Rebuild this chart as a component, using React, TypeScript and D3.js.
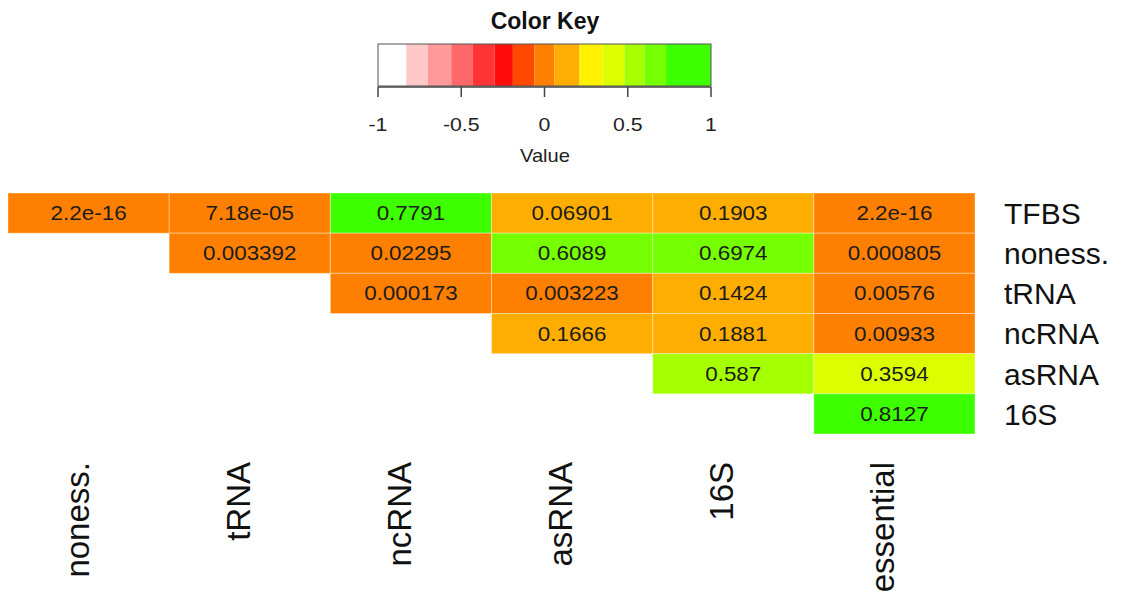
import React from "react";
import * as d3 from "d3";

const columns = ["noness.", "tRNA", "ncRNA", "asRNA", "16S", "essential"];
const rows = ["TFBS", "noness.", "tRNA", "ncRNA", "asRNA", "16S"];

// upper-triangular matrix of p-values; null = empty cell
const rowTFBS = ["2.2e-16", "7.18e-05", "0.7791", "0.06901", "0.1903", "2.2e-16"];
const rowNoness = [null, "0.003392", "0.02295", "0.6089", "0.6974", "0.000805"];
const rowTRNA = [null, null, "0.000173", "0.003223", "0.1424", "0.00576"];
const rowNcRNA = [null, null, null, "0.1666", "0.1881", "0.00933"];
const rowAsRNA = [null, null, null, null, "0.587", "0.3594"];
const row16S = [null, null, null, null, null, "0.8127"];
const matrix = [rowTFBS, rowNoness, rowTRNA, rowNcRNA, rowAsRNA, row16S];

// color key: breaks between -1 and 1 and band colors
const keyBreaks = [-1, -0.83, -0.7, -0.56, -0.43, -0.3, -0.19, -0.06, 0.06, 0.21, 0.35, 0.48, 0.6, 0.73, 1];
const keyColors = [
  "#FFFFFF", "#FFC8C8", "#FF9A9A", "#FF6868", "#FF3434", "#FF0C0C",
  "#FF4A00", "#FF8000", "#FFAE00", "#FFF200", "#DCFF00", "#A6FF00", "#76FF00", "#3EFF00",
];
const keyTicks = [-1, -0.5, 0, 0.5, 1];

const W = 1127;
const H = 597;
const FONT = "'Liberation Sans', Arial, Helvetica, sans-serif";

export default function App() {
  const x = d3.scaleBand<string>().domain(columns).range([8, 975]).paddingInner(0).paddingOuter(0);
  const y = d3.scaleBand<string>().domain(rows).range([193, 434]).paddingInner(0).paddingOuter(0);
  const color = d3
    .scaleThreshold<number, string>()
    .domain(keyBreaks.slice(1, -1))
    .range(keyColors);
  const kx = d3.scaleLinear().domain([-1, 1]).range([378, 711]);
  const keyTop = 44;
  const keyBottom = 86;

  const cells: React.ReactNode[] = [];
  matrix.forEach((r, i) => {
    r.forEach((v, j) => {
      if (v === null) return;
      const cx = x(columns[j])!;
      const cy = y(rows[i])!;
      cells.push(
        <g key={`${i}-${j}`}>
          <rect
            x={cx}
            y={cy}
            width={x.bandwidth()}
            height={y.bandwidth()}
            fill={color(parseFloat(v))}
            stroke="rgba(255,255,255,0.35)"
            strokeWidth={1}
          />
          <text
            transform={`translate(${cx + x.bandwidth() / 2},${cy + y.bandwidth() / 2}) scale(1.15,1)`}
            dy="0.36em"
            textAnchor="middle"
            fontSize={19.5}
            fill="#1c1c1c"
          >
            {v}
          </text>
        </g>
      );
    });
  });

  return (
    <svg
      width={W}
      height={H}
      style={{ position: "absolute", left: 0, top: 0, background: "#fff" }}
      fontFamily={FONT}
    >
      {/* Color key */}
      <text x={545} y={29} textAnchor="middle" fontWeight="bold" fontSize={23} fill="#111">
        Color Key
      </text>
      {keyColors.map((c, i) => (
        <rect
          key={i}
          x={kx(keyBreaks[i])}
          y={keyTop}
          width={kx(keyBreaks[i + 1]) - kx(keyBreaks[i])}
          height={keyBottom - keyTop}
          fill={c}
        />
      ))}
      <rect x={kx(-1)} y={keyTop} width={kx(1) - kx(-1)} height={keyBottom - keyTop} fill="none" stroke="#555" strokeWidth={1} />
      <line x1={kx(-1)} x2={kx(1)} y1={keyBottom + 1} y2={keyBottom + 1} stroke="#444" strokeWidth={1.5} />
      {keyTicks.map((t) => (
        <g key={t}>
          <line x1={kx(t)} x2={kx(t)} y1={keyBottom + 1} y2={keyBottom + 11} stroke="#444" strokeWidth={1.5} />
          <text
            transform={`translate(${kx(t)},${131}) scale(1.12,1)`}
            textAnchor="middle"
            fontSize={19}
            fill="#222"
          >
            {t === 0 ? "0" : String(t)}
          </text>
        </g>
      ))}
      <text transform={`translate(545,162) scale(1.12,1)`} textAnchor="middle" fontSize={18} fill="#222">
        Value
      </text>

      {/* Heatmap cells */}
      {cells}

      {/* Row labels */}
      {rows.map((r) => (
        <text
          key={r}
          x={1004}
          y={y(r)! + y.bandwidth() / 2}
          dy="0.36em"
          fontSize={30}
          fill="#111"
        >
          {r}
        </text>
      ))}

      {/* Column labels */}
      {columns.map((c) => (
        <text
          key={c}
          transform={`translate(${x(c)! + x.bandwidth() / 2},${462}) rotate(-90)`}
          textAnchor="end"
          fontSize={33}
          fill="#111"
        >
          {c}
        </text>
      ))}
    </svg>
  );
}
